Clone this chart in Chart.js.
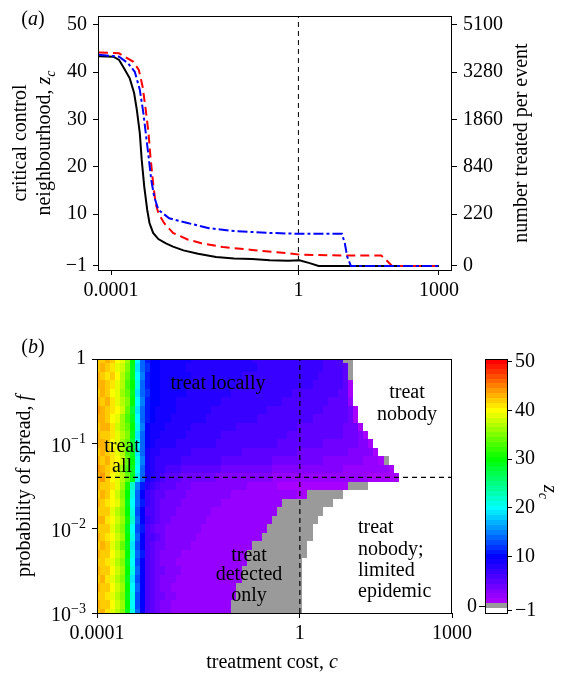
<!DOCTYPE html>
<html>
<head>
<meta charset="utf-8">
<script src="https://cdn.jsdelivr.net/npm/chart.js@4.4.0/dist/chart.umd.min.js"></script>
<style>
  html, body { margin: 0; background: #fff; }
  body { width: 562px; height: 680px; position: relative; overflow: hidden; }
  canvas { position: absolute; }
  #chartA { left: 0; top: 0; }
  #chartB { left: 0; top: 330px; }
  #chartC { left: 440px; top: 330px; }
</style>
</head>
<body>
<canvas id="chartA" width="562" height="310"></canvas>
<canvas id="chartB" width="562" height="350"></canvas>
<canvas id="chartC" width="122" height="350"></canvas>
<script>
// ---- panel (a): critical control neighbourhood against treatment cost ----
var blackCost = [5.5e-5, 1.12e-4, 1.48e-4, 1.9e-4, 2.5e-4, 3.1e-4, 3.55e-4, 4.1e-4, 4.5e-4, 5.1e-4,
                 5.9e-4, 6.6e-4, 7.9e-4, 1.02e-3, 1.48e-3, 2.1e-3, 3.5e-3, 7.2e-3, 0.0174, 0.042,
                 0.102, 0.245, 0.6, 1.05, 1.74, 2.7, 1000];
var blackZ = [43.4, 43.3, 42.6, 40.8, 38.7, 35.6, 32, 27.1, 21.5, 15.8,
              10.9, 8.1, 6.0, 4.7, 3.8, 3.1, 2.3, 1.6, 0.9, 0.6,
              0.47, 0.2, 0.1, 0.2, -0.4, -1, -1];
var redCost = [5.5e-5, 1.48e-4, 3.0e-4, 3.9e-4, 4.7e-4, 5.5e-4, 6.3e-4, 6.9e-4, 7.9e-4, 8.9e-4,
               1.02e-3, 1.35e-3, 2.1e-3, 4.3e-3, 8.5e-3, 0.0245, 0.102, 0.6, 1.05, 8.5,
               59, 71, 100, 1000];
var redZ = [44.2, 44.0, 42.2, 40.5, 37.0, 32, 27.1, 22.2, 16.5, 12.3,
            10.2, 8.1, 6.0, 4.6, 3.8, 3.0, 2.4, 1.7, 1.4, 1.2,
            1.2, 0.5, -1, -1];
var blueCost = [5.5e-5, 1.48e-4, 2.3e-4, 3.2e-4, 4.1e-4, 4.9e-4, 5.5e-4, 6.3e-4, 7.2e-4, 8.3e-4,
                1.02e-3, 1.74e-3, 4.3e-3, 0.0123, 0.042, 0.245, 1.05, 8.5, 9.8, 11,
                13.2, 1000];
var blueZ = [43.7, 43.3, 41.9, 40.1, 36.3, 31.3, 27.1, 22.2, 17.2, 13.7,
             10.9, 9.1, 8.1, 7.0, 6.4, 6.0, 5.8, 5.8, 3.8, 1.0,
             -1, -1];

var aCostTicks = [1e-4, 1, 1000];
var aCostLabels = ['0.0001', '1', '1000'];
var aZTicks = [-1, 10, 20, 30, 40, 50];
var aZLabels = ['\u22121', '10', '20', '30', '40', '50'];
var aTreatedLabels = ['0', '220', '840', '1860', '3280', '5100'];
var markCost = 1;

// ---- panel (b): z_c over treatment cost c and probability of spread f ----
// grid centres (log10), one character per cell: '.' = -1 (treat nobody), '0' = 0, '1'..'9', 'a'=10 ... 'z'=35, 'A'=36 ... 'O'=50
var heatLogCost = [-4.0, -3.9, -3.8, -3.7, -3.6, -3.5, -3.4, -3.3, -3.2, -3.1,
                   -3.0, -2.9, -2.8, -2.7, -2.6, -2.5, -2.4, -2.3, -2.2, -2.1,
                   -2.0, -1.9, -1.8, -1.7, -1.6, -1.5, -1.4, -1.3, -1.2, -1.1,
                   -1.0, -0.9, -0.8, -0.7, -0.6, -0.5, -0.4, -0.3, -0.2, -0.1,
                   0.0, 0.1, 0.2, 0.3, 0.4, 0.5, 0.6, 0.7, 0.8, 0.9,
                   1.0, 1.1, 1.2, 1.3, 1.4, 1.5, 1.6, 1.7, 1.8, 1.9,
                   2.0, 2.1, 2.2, 2.3, 2.4, 2.5, 2.6, 2.7, 2.8, 2.9, 3.0];
var heatLogSpread = [0.0, -0.1, -0.2, -0.3, -0.4, -0.5, -0.6, -0.7, -0.8, -0.9,
                     -1.0, -1.1, -1.2, -1.3, -1.4, -1.5, -1.6, -1.7, -1.8, -1.9,
                     -2.0, -2.1, -2.2, -2.3, -2.4, -2.5, -2.6, -2.7, -2.8, -2.9, -3.0];
var heatRows = [
  'GGHGEDAuke baa9999998 8888888888 8777777777 7777766660 0......... .......... .',
  'GHGFDCztje caa9999988 8888888888 8877777777 7777766665 0......... .......... .',
  'HGFGEBytkf baa9999998 8888888887 7777777777 7777666665 0......... .......... .',
  'HHGFDBxule baa9999988 8888888877 7777777777 7776666665 1......... .......... .',
  'GHGEDAytje caa9999988 8888888777 7777777776 6666666655 1......... .......... .',
  'HGHFDBzukf baa9998888 8888877777 7777777666 6666665555 2......... .......... .',
  'IHGFECysje ba99998888 8887777777 7777666666 6666655555 41........ .......... .',
  'HHGEDAxtke ba99988888 8877777777 7766666666 6665555555 41........ .......... .',
  'GHHFCAyulf a999888887 7777777766 6666666666 5555555554 441....... .......... .',
  'HGGFDBztje a998888877 7777766666 6666666655 5555555554 4431...... .......... .',
  'HHGEDAyske a988887777 7777666666 6666665555 5555544444 44331..... .......... .',
  'GHGFDBxtje 9887777776 6666666665 5555555555 4444444444 333331.... .......... .',
  'HGHFECyulf 9877777666 6666655555 5555544444 4444433333 33322210.. .......... .',
  'IHGFDAxtke 9877666555 5555544444 4444433333 3333333332 222222221. .......... .',
  'HIGEDBytje 9876555444 4444333333 3333322222 2222222222 2222111111 .......... .',
  'HGGFDAvmfb 8765554443 3333333333 2222221111 1111111111 0000...... .......... .',
  'GHGECzulea 7655444433 3333333222 2222222222 110000000. .......... .......... .',
  'HGFEDAtkeb 7654444333 3333322222 2222222000 0000000... .......... .......... .',
  'GGGDBzulda 6654443333 3332222222 2222220000 00000..... .......... .......... .',
  'HHFECAvmea 7654433333 3322222222 2222200000 0000...... .......... .......... .',
  'GGGDBztkdb 6544333333 3222222222 2222000000 000....... .......... .......... .',
  'HGFECAulea 6654333333 2222222222 2220000000 000....... .......... .......... .',
  'GHGDBytjda 6544333332 2222222222 2000000000 00........ .......... .......... .',
  'HGGECAuleb 6543333222 2222222222 0000000000 00........ .......... .......... .',
  'GGFDBztkda 6543332222 2222222222 0000000000 0......... .......... .......... .',
  'HGGECAulea 6544333222 2222222220 0000000000 0......... .......... .......... .',
  'GHFDBztjda 6543332222 2222222220 0000000000 0......... .......... .......... .',
  'HGGECAukea 6543322222 2222222200 0000000000 0......... .......... .......... .',
  'GGFDBztlda 6544332222 2222222200 0000000000 0......... .......... .......... .',
  'HGGECAukda 6543322222 2222222000 0000000000 0......... .......... .......... .',
  'GHFDBztlea 6543322222 2222222000 0000000000 0......... .......... .......... .'
];
var bCostTicks = [1e-4, 1, 1000];
var bCostLabels = ['0.0001', '1', '1000'];
var bSpreadTicks = [1, 0.1, 0.01, 0.001];
var bSpreadLabels = ['1', '10^\u22121', '10^\u22122', '10^\u22123'];
var splitSpread = 0.04;

// colour bar
var cbTicks = [50, 40, 30, 20, 10, -1];
var cbLabels = ['50', '40', '30', '20', '10', '\u22121'];

var CODE = '.0123456789abcdefghijklmnopqrstuvwxyzABCDEFGHIJKLMNO';
function decodeRow(s) {
  var chars = s.replace(/ /g, '').split('');
  return heatLogCost.map(function (c, j) { return CODE.indexOf(chars[j] || '.') - 1; });
}
var heatZ = heatRows.map(decodeRow);

var SERIF = "'Liberation Serif', 'Times New Roman', serif";
var TICK_FONT = { family: SERIF, size: 20 };
Chart.defaults.font.family = SERIF;
Chart.defaults.font.size = 20;
Chart.defaults.color = '#000';

function zColour(z) {
  if (z < 0) return '#ffffff';
  if (z === 0) return '#9a9a9a';
  var hue = z >= 10 ? 6 * (50 - z) : 240 + (10 - z) * 4.4;
  return 'hsl(' + hue + ',100%,50%)';
}

function toPoints(xs, ys) {
  return xs.map(function (x, i) { return { x: x, y: ys[i] }; });
}

function fixTicks(values) {
  return function (scale) {
    scale.ticks = values.map(function (v) { return { value: v }; });
  };
}

function fixBox(size) {
  return function (scale) {
    if (scale.isHorizontal()) scale.height = size; else scale.width = size;
    scale.paddingLeft = scale.paddingRight = scale.paddingTop = scale.paddingBottom = 0;
  };
}

function fontFor(p) {
  return (p.i ? 'italic ' : '') + (p.sub || p.sup ? 14 : 20) + 'px ' + SERIF;
}

// draws text made of plain / italic / sub / superscript pieces
function drawRich(ctx, x, y, parts, rot, align) {
  ctx.save();
  ctx.translate(x, y);
  ctx.rotate(rot);
  var w = 0;
  parts.forEach(function (p) { ctx.font = fontFor(p); w += ctx.measureText(p.t).width; });
  var cx = align === 'left' ? 0 : (align === 'right' ? -w : -w / 2);
  ctx.textBaseline = 'middle';
  ctx.textAlign = 'left';
  ctx.fillStyle = '#000';
  parts.forEach(function (p) {
    ctx.font = fontFor(p);
    ctx.fillText(p.t, cx, p.sub ? 6 : (p.sup ? -7 : 0));
    cx += ctx.measureText(p.t).width;
  });
  ctx.restore();
}

function frame(ctx, a) {
  ctx.save();
  ctx.strokeStyle = '#000';
  ctx.lineWidth = 1;
  ctx.strokeRect(Math.round(a.left) + 0.5, Math.round(a.top) + 0.5,
                 Math.round(a.right - a.left) - 1, Math.round(a.bottom - a.top));
  ctx.restore();
}

var tickGrid = { drawOnChartArea: false, drawTicks: true, tickLength: 5, color: '#000', tickColor: '#000' };

// ---------------- panel (a) ----------------
var panelAText = {
  id: 'panelAText',
  afterDraw: function (chart) {
    var ctx = chart.ctx, a = chart.chartArea;
    frame(ctx, a);
    var midY = (a.top + a.bottom) / 2;
    drawRich(ctx, 33, 20, [{ t: '(' }, { t: 'a', i: true }, { t: ')' }], 0, 'center');
    drawRich(ctx, 21, midY, [{ t: 'critical control' }], -Math.PI / 2, 'center');
    drawRich(ctx, 45, midY, [{ t: 'neighbourhood, ' }, { t: 'z', i: true }, { t: 'c', i: true, sub: true }], -Math.PI / 2, 'center');
    drawRich(ctx, 522, midY, [{ t: 'number treated per event' }], -Math.PI / 2, 'center');
  }
};

new Chart(document.getElementById('chartA'), {
  type: 'scatter',
  data: {
    datasets: [
      { data: toPoints(blueCost, blueZ), showLine: true, borderColor: '#0000ff', borderWidth: 2,
        borderDash: [10, 3, 3, 3], pointRadius: 0 },
      { data: toPoints(redCost, redZ), showLine: true, borderColor: '#ff0000', borderWidth: 2,
        borderDash: [9, 5], pointRadius: 0 },
      { data: toPoints(blackCost, blackZ), showLine: true, borderColor: '#000000', borderWidth: 2,
        pointRadius: 0 },
      { data: [{ x: markCost, y: -1.85 }, { x: markCost, y: 51.9 }], showLine: true, borderColor: '#000',
        borderWidth: 1, borderDash: [5, 4], pointRadius: 0 }
    ]
  },
  options: {
    responsive: false, animation: false, devicePixelRatio: 1,
    layout: { padding: { top: 16, left: 0, right: 0, bottom: 0 } },
    plugins: { legend: { display: false }, tooltip: { enabled: false } },
    scales: {
      x: {
        type: 'logarithmic', min: Math.pow(10, -4.28), max: Math.pow(10, 3.28),
        afterBuildTicks: fixTicks(aCostTicks), afterFit: fixBox(40),
        ticks: { callback: function (v, i) { return aCostLabels[i]; }, font: TICK_FONT, padding: 4, maxRotation: 0, autoSkip: false },
        grid: tickGrid, border: { display: false }
      },
      y: {
        position: 'left', min: -1.85, max: 51.9,
        afterBuildTicks: fixTicks(aZTicks), afterFit: fixBox(98),
        ticks: { callback: function (v, i) { return aZLabels[i]; }, font: TICK_FONT, padding: 6, autoSkip: false },
        grid: tickGrid, border: { display: false }
      },
      y2: {
        position: 'right', min: -1.85, max: 51.9,
        afterBuildTicks: fixTicks(aZTicks), afterFit: fixBox(110),
        ticks: { callback: function (v, i) { return aTreatedLabels[i]; }, font: TICK_FONT, padding: 6, autoSkip: false },
        grid: tickGrid, border: { display: false }
      }
    }
  },
  plugins: [panelAText]
});

// ---------------- panel (b) ----------------
var heatmapPlugin = {
  id: 'heatmap',
  beforeDatasetsDraw: function (chart) {
    var ctx = chart.ctx, a = chart.chartArea, xs = chart.scales.x, ys = chart.scales.y;
    var hx = (heatLogCost[1] - heatLogCost[0]) / 2;
    var hy = (heatLogSpread[0] - heatLogSpread[1]) / 2;
    ctx.save();
    ctx.beginPath();
    ctx.rect(a.left, a.top, a.right - a.left, a.bottom - a.top);
    ctx.clip();
    heatZ.forEach(function (row, k) {
      var y0 = Math.round(ys.getPixelForValue(Math.pow(10, heatLogSpread[k] + hy)));
      var y1 = Math.round(ys.getPixelForValue(Math.pow(10, heatLogSpread[k] - hy)));
      row.forEach(function (z, j) {
        if (z < 0) return;
        var x0 = Math.round(xs.getPixelForValue(Math.pow(10, heatLogCost[j] - hx)));
        var x1 = Math.round(xs.getPixelForValue(Math.pow(10, heatLogCost[j] + hx)));
        ctx.fillStyle = zColour(z);
        ctx.fillRect(x0, y0, x1 - x0, y1 - y0);
      });
    });
    ctx.restore();
  }
};

var panelBText = {
  id: 'panelBText',
  afterDraw: function (chart) {
    var ctx = chart.ctx, a = chart.chartArea, ys = chart.scales.y;
    frame(ctx, a);
    drawRich(ctx, 33, 18, [{ t: '(' }, { t: 'b', i: true }, { t: ')' }], 0, 'center');
    drawRich(ctx, 25, (a.top + a.bottom) / 2, [{ t: 'probability of spread, ' }, { t: 'f', i: true }], -Math.PI / 2, 'center');
    drawRich(ctx, 272, 333, [{ t: 'treatment cost, ' }, { t: 'c', i: true }], 0, 'center');
    bSpreadTicks.forEach(function (v, i) {
      var bits = bSpreadLabels[i].split('^');
      var parts = [{ t: bits[0] }];
      if (bits[1]) parts.push({ t: bits[1], sup: true });
      drawRich(ctx, a.left - 11, ys.getPixelForValue(v) + (bits[1] ? 3 : 0), parts, 0, 'right');
    });
    var notes = [
      ['treat locally', 218, 54], ['treat', 122, 117], ['all', 122, 137],
      ['treat', 407, 63], ['nobody', 407, 85],
      ['treat', 249, 226], ['detected', 249, 245], ['only', 249, 266]
    ];
    notes.forEach(function (n) { drawRich(ctx, n[1], n[2], [{ t: n[0] }], 0, 'center'); });
    [['treat', 198], ['nobody;', 220], ['limited', 241], ['epidemic', 262]].forEach(function (n) {
      drawRich(ctx, 358, n[1], [{ t: n[0] }], 0, 'left');
    });
  }
};

new Chart(document.getElementById('chartB'), {
  type: 'scatter',
  data: {
    datasets: [
      { data: [{ x: 1e-4, y: splitSpread }, { x: 1e3, y: splitSpread }], showLine: true, borderColor: '#000',
        borderWidth: 1.2, borderDash: [5, 4], pointRadius: 0 },
      { data: [{ x: markCost, y: 1e-3 }, { x: markCost, y: 1 }], showLine: true, borderColor: '#000',
        borderWidth: 1.2, borderDash: [5, 4], pointRadius: 0 }
    ]
  },
  options: {
    responsive: false, animation: false, devicePixelRatio: 1,
    layout: { padding: { top: 29, left: 0, right: 110, bottom: 0 } },
    plugins: { legend: { display: false }, tooltip: { enabled: false } },
    scales: {
      x: {
        type: 'logarithmic', min: 1e-4, max: 1e3,
        afterBuildTicks: fixTicks(bCostTicks), afterFit: fixBox(67),
        ticks: { callback: function (v, i) { return bCostLabels[i]; }, font: TICK_FONT, padding: 4, maxRotation: 0, autoSkip: false },
        grid: tickGrid, border: { display: false }
      },
      y: {
        type: 'logarithmic', min: 1e-3, max: 1,
        afterBuildTicks: fixTicks(bSpreadTicks), afterFit: fixBox(97),
        ticks: { display: false },
        grid: tickGrid, border: { display: false }
      }
    }
  },
  plugins: [heatmapPlugin, panelBText]
});

// ---------------- colour bar ----------------
var colourbarPlugin = {
  id: 'colourbar',
  afterDraw: function (chart) {
    var ctx = chart.ctx, a = chart.chartArea, ys = chart.scales.y;
    for (var v = -1; v <= 50; v++) {
      var y0 = Math.round(ys.getPixelForValue(v + 0.5));
      var y1 = Math.round(ys.getPixelForValue(v - 0.5));
      ctx.fillStyle = zColour(v);
      ctx.fillRect(a.left, y0, a.right - a.left, y1 - y0);
    }
    frame(ctx, a);
    var y0p = Math.round(ys.getPixelForValue(0)) + 0.5;
    ctx.strokeStyle = '#000';
    ctx.lineWidth = 1;
    ctx.beginPath();
    ctx.moveTo(a.left - 6, y0p);
    ctx.lineTo(a.left, y0p);
    ctx.stroke();
    drawRich(ctx, a.left - 8, y0p, [{ t: '0' }], 0, 'right');
    drawRich(ctx, 109, (a.top + a.bottom) / 2 + 6, [{ t: 'z', i: true }, { t: 'c', i: true, sub: true }], Math.PI / 2, 'center');
  }
};

new Chart(document.getElementById('chartC'), {
  type: 'bar',
  data: { labels: [], datasets: [] },
  options: {
    responsive: false, animation: false, devicePixelRatio: 1,
    layout: { padding: { top: 29, left: 45, right: 0, bottom: 67 } },
    plugins: { legend: { display: false }, tooltip: { enabled: false } },
    scales: {
      x: { display: false },
      y: {
        position: 'right', min: -1.5, max: 50.5,
        afterBuildTicks: fixTicks(cbTicks), afterFit: fixBox(54),
        ticks: { callback: function (v, i) { return cbLabels[i]; }, font: TICK_FONT, padding: 3, autoSkip: false },
        grid: { drawOnChartArea: false, drawTicks: true, tickLength: 4, color: '#000', tickColor: '#000' },
        border: { display: false }
      }
    }
  },
  plugins: [colourbarPlugin]
});
</script>
</body>
</html>
